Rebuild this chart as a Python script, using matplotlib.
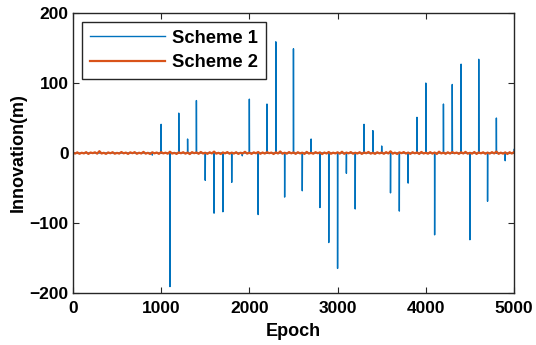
import matplotlib
matplotlib.use("Agg")
import matplotlib.pyplot as plt
import numpy as np

# Scheme 1: innovation spikes (epoch, value in m)
spike_epochs = [900, 1000, 1100, 1200, 1300, 1400, 1500, 1600, 1700, 1800,
                1920, 2000, 2100, 2200, 2300, 2400, 2500, 2600, 2700, 2800,
                2900, 3000, 3100, 3200, 3300, 3400, 3500, 3600, 3700, 3800,
                3900, 4000, 4100, 4200, 4300, 4400, 4500, 4600, 4700, 4800,
                4900, 5000]
spike_values = [-3, 41, -191, 57, 20, 75, -39, -86, -84, -42,
                -4, 77, -88, 70, 159, -63, 149, -54, 20, -78,
                -128, -165, -29, -80, 41, 32, 10, -57, -83, -43,
                51, 100, -117, 70, 98, 127, -124, 134, -69, 50,
                -11, 5]

# Scheme 2: small residual noise around zero (m), sampled every 25 epochs
s2_step = 25
s2_values = [0.5, -0.8, 0.9, -1.1, 0.4, -0.6, 1.2, -1.3, 0.7, -0.2,
             1.0, -0.9, 2.6, -0.7, 0.3, -1.2, 0.8, -0.4, 1.1, -1.0,
             0.2, -0.8, 1.4, -0.5, 0.6, -1.3, 0.9, -0.3, 1.2, -1.1,
             0.4, -0.7, 1.6, -0.9, 0.3, -1.4, 1.0, -0.5, 0.7, -1.2,
             1.3, -0.6, 0.5, -1.0, 1.8, -0.8, 0.2, -1.3, 0.9, -0.4,
             1.1, -0.9, 0.6, -1.5, 1.2, -0.3, 0.8, -1.1, 1.5, -0.7,
             0.4, -1.2, 1.0, -0.6, 2.0, -0.9, 0.3, -1.4, 0.8, -0.5,
             1.3, -1.0, 0.6, -0.8, 1.1, -1.3, 0.4, -0.6, 1.7, -0.9,
             0.5, -1.2, 0.9, -0.4, 1.4, -1.1, 0.7, -0.8, 1.2, -0.3,
             0.6, -1.4, 1.0, -0.7, 2.2, -1.0, 0.4, -0.9, 1.3, -0.5,
             0.8, -1.2, 1.1, -0.6, 0.5, -1.3, 1.6, -0.8, 0.3, -1.0,
             1.2, -0.4, 0.9, -1.5, 0.7, -0.7, 1.4, -1.1, 0.5, -0.6,
             1.0, -0.9, 1.8, -1.2, 0.6, -0.5, 1.3, -1.0, 0.4, -0.8,
             1.1, -1.3, 0.8, -0.4, 1.5, -0.9, 0.3, -1.2, 1.0, -0.6,
             0.7, -1.1, 1.2, -0.7, 2.4, -1.0, 0.5, -1.4, 0.9, -0.3,
             1.3, -0.8, 0.6, -1.2, 1.1, -0.5, 0.8, -1.3, 1.5, -0.7,
             0.4, -1.0, 1.2, -0.9, 0.7, -1.4, 1.9, -0.6, 0.5, -1.1,
             1.0, -0.8, 1.3, -0.4, 0.6, -1.2, 1.1, -0.7, 1.6, -1.0,
             0.3, -0.9, 1.4, -1.3, 0.8, -0.5, 1.0, -1.1, 0.6, -0.8,
             1.2, -0.6, 2.1, -1.2, 0.5, -0.9, 0.9, -1.4, 1.1, -0.7,
             1.3]

epochs = np.arange(0, 5001)
scheme1 = np.zeros(len(epochs))
scheme1[spike_epochs] = spike_values
s2_epochs = np.arange(0, 5001, s2_step)

plt.rcParams["font.family"] = ["Liberation Sans", "DejaVu Sans"]
plt.rcParams["font.weight"] = "bold"

fig = plt.figure(figsize=(5.36, 3.45), dpi=100)
ax = fig.add_axes([0.136, 0.151, 0.823, 0.811])

ax.plot(epochs, scheme1, color="#0072BD", lw=1.0, label="Scheme 1")
ax.plot(s2_epochs, s2_values, color="#D95319", lw=1.6, label="Scheme 2")

ax.set_xlim(0, 5000)
ax.set_ylim(-200, 200)
ax.set_xticks([0, 1000, 2000, 3000, 4000, 5000])
ax.set_yticks([-200, -100, 0, 100, 200])
ax.tick_params(direction="in", top=True, right=True, length=4,
               labelsize=12.5, pad=3, color="#262626")
ax.tick_params(axis="x", pad=6)
for lab in ax.get_xticklabels() + ax.get_yticklabels():
    lab.set_fontweight("bold")
for sp in ax.spines.values():
    sp.set_linewidth(1.0)
    sp.set_color("#262626")

ax.set_xlabel("Epoch", fontsize=13, fontweight="bold", labelpad=5)
ax.set_ylabel("Innovation(m)", fontsize=13, fontweight="bold", labelpad=2)

leg = ax.legend(loc="upper left", bbox_to_anchor=(0.02, 0.97), fontsize=13.2,
                handlelength=4.1, handletextpad=0.35, borderaxespad=0,
                fancybox=False, edgecolor="#262626", framealpha=1,
                borderpad=0.45, labelspacing=0.4)
leg.get_frame().set_linewidth(1.0)
for t in leg.get_texts():
    t.set_fontweight("bold")

fig.savefig("out.png", dpi=100)
